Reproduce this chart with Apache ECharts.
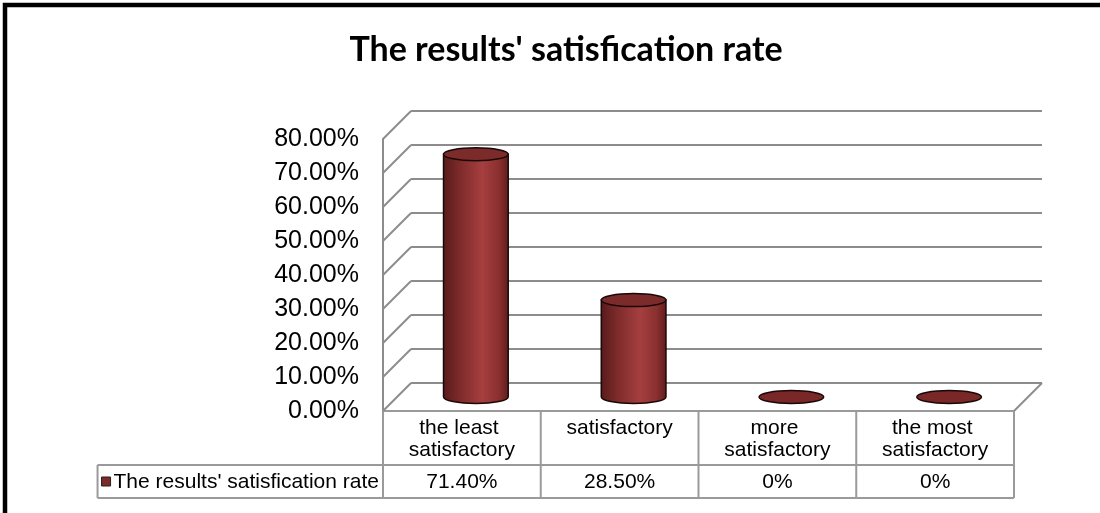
<!DOCTYPE html>
<html>
<head>
<meta charset="utf-8">
<script src="https://cdn.jsdelivr.net/npm/echarts@6/dist/echarts.min.js"></script>
<style>
html,body{margin:0;padding:0;background:#fff;}
#chart{width:1100px;height:513px;}
</style>
</head>
<body>
<div id="chart"></div>
<script>
const titleText = "The results' satisfication rate";
const seriesName = "The results' satisfication rate";
const categories = ['the least satisfactory', 'satisfactory', 'more satisfactory', 'the most satisfactory'];
const values = [71.4, 28.5, 0, 0];            // percent
const yTicks = [0, 10, 20, 30, 40, 50, 60, 70, 80];

const FONT = '"Liberation Sans", Arial, sans-serif';
const GRID = '#8c8c8c';
const TABLE = '#9a9a9a';
const DEPTH = 28;      // 3D depth offset (px)
const MID = DEPTH / 2; // cylinders sit half-way in depth

function fmtVal(v) { return v === 0 ? '0%' : v.toFixed(2) + '%'; }

const chart = echarts.init(document.getElementById('chart'), null, {renderer: 'canvas'});

const gridL = 383, gridR = 1014, gridT = 139, gridB = 411;
const tableMid = 465, tableBot = 498;

const option = {
  animation: false,
  backgroundColor: '#fff',
  title: {
    text: titleText,
    left: 561, top: 28, textAlign: 'center',
    textStyle: {fontFamily: 'Lato, "Open Sans", sans-serif', fontWeight: 'bold', fontSize: 34, color: '#000'}
  },
  grid: {left: gridL, right: 1100 - gridR, top: gridT, bottom: 513 - gridB, containLabel: false},
  xAxis: {
    type: 'category', data: categories,
    axisLine: {show: true, lineStyle: {color: TABLE, width: 2}},
    axisTick: {show: false},
    splitLine: {show: false},
    axisLabel: {
      interval: 0, margin: 6, color: '#000', fontFamily: FONT, fontSize: 21, lineHeight: 22,
      width: 140, overflow: 'break', align: 'center', verticalAlign: 'top'
    }
  },
  yAxis: {
    type: 'value', min: 0, max: 80, interval: 10,
    axisLine: {show: true, lineStyle: {color: GRID, width: 2}},
    axisTick: {show: false},
    splitLine: {show: false},
    axisLabel: {margin: 24, color: '#000', fontFamily: FONT, fontSize: 25,
      formatter: v => v.toFixed(2) + '%'}
  },
  series: [
    {
      // 3D walls: diagonal + back gridline for every y tick
      type: 'custom', name: 'walls', silent: true, z: 1,
      data: yTicks.map(t => [0, t]),
      renderItem(params, api) {
        const cs = params.coordSys;
        const p = api.coord([0, api.value(1)]);
        const y = p[1];
        const x0 = cs.x, x1 = cs.x + cs.width;
        const st = {stroke: GRID, lineWidth: 2};
        const ch = [
          {type: 'line', shape: {x1: x0, y1: y, x2: x0 + DEPTH, y2: y - DEPTH}, style: st},
          {type: 'line', shape: {x1: x0 + DEPTH, y1: y - DEPTH, x2: x1 + DEPTH, y2: y - DEPTH}, style: st}
        ];
        if (api.value(1) === 0) {
          ch.push({type: 'line', shape: {x1: x1, y1: y, x2: x1 + DEPTH, y2: y - DEPTH}, style: st});
        }
        return {type: 'group', children: ch};
      }
    },
    {
      type: 'custom', name: seriesName, z: 3,
      data: values.map((v, i) => [i, v]),
      renderItem(params, api) {
        const v = api.value(1);
        const base = api.coord([api.value(0), 0]);
        const top = api.coord([api.value(0), v]);
        const bw = api.size([1, 0])[0];
        const rx = bw * 0.205, ry = 6.5;
        const cx = base[0] + MID, by = base[1] - MID, ty = top[1] - MID;
        if (v === 0) {
          return {type: 'path', shape: {pathData:
            `M${cx - rx},${by} A${rx},${ry} 0 1 0 ${cx + rx},${by} A${rx},${ry} 0 1 0 ${cx - rx},${by} Z`},
            style: {fill: '#7a2727', stroke: '#1a0808', lineWidth: 1.5}};
        }
        const grad = {type: 'linear', x: 0, y: 0, x2: 1, y2: 0, colorStops: [
          {offset: 0, color: '#561a1a'}, {offset: 0.25, color: '#7d2a2a'},
          {offset: 0.6, color: '#a63f3f'}, {offset: 0.85, color: '#8a2f2f'}, {offset: 1, color: '#5e1c1c'}]};
        return {type: 'group', children: [
          {type: 'path', shape: {pathData:
            `M${cx - rx},${ty} L${cx - rx},${by} A${rx},${ry} 0 0 0 ${cx + rx},${by} L${cx + rx},${ty} Z`},
            style: {fill: grad, stroke: '#1a0808', lineWidth: 1.5}},
          {type: 'path', shape: {pathData:
            `M${cx - rx},${ty} A${rx},${ry} 0 1 0 ${cx + rx},${ty} A${rx},${ry} 0 1 0 ${cx - rx},${ty} Z`},
            style: {fill: '#7c2b2b', stroke: '#1a0808', lineWidth: 1.5}}
        ]};
      }
    }
  ],
  graphic: []
};

chart.setOption(option);

// data table built from categories / values, positioned from the axis scale
function buildTable() {
  const g = [];
  const st = {stroke: TABLE, lineWidth: 2};
  const font = `21px ${FONT}`;
  const nameW = echarts.format.getTextRect
    ? echarts.format.getTextRect(seriesName, font).width : 265;
  const legendL = gridL - nameW - 20;
  const colW = (gridR - gridL) / categories.length;
  const colX = [];
  for (let i = 0; i <= categories.length; i++) {
    const px = i < categories.length ? chart.convertToPixel({xAxisIndex: 0}, i) - colW / 2 : gridR;
    colX.push(px);
  }
  colX.forEach(x => g.push({type: 'line', shape: {x1: x, y1: gridB, x2: x, y2: tableBot}, style: st}));
  g.push({type: 'line', shape: {x1: legendL, y1: tableMid, x2: gridR, y2: tableMid}, style: st});
  g.push({type: 'line', shape: {x1: legendL, y1: tableBot, x2: gridR, y2: tableBot}, style: st});
  g.push({type: 'line', shape: {x1: legendL, y1: tableMid, x2: legendL, y2: tableBot}, style: st});
  values.forEach((v, i) => {
    g.push({type: 'text', x: chart.convertToPixel({xAxisIndex: 0}, i), y: (tableMid + tableBot) / 2 + 1,
      style: {text: fmtVal(v), fill: '#000', font: font, align: 'center', verticalAlign: 'middle'}});
  });
  // legend key + name
  g.push({type: 'rect', shape: {x: legendL + 4, y: 477, width: 9, height: 9},
    style: {fill: '#7c2b2b', stroke: '#222', lineWidth: 1}});
  g.push({type: 'text', x: gridL - 4, y: (tableMid + tableBot) / 2 + 1,
    style: {text: seriesName, fill: '#000', font: font, align: 'right', verticalAlign: 'middle'}});
  // outer black frame
  g.push({type: 'rect', shape: {x: 5, y: 5, width: 1200, height: 600},
    style: {fill: 'none', stroke: '#000', lineWidth: 4.5}});
  chart.setOption({graphic: g});
}
buildTable();
</script>
</body>
</html>
